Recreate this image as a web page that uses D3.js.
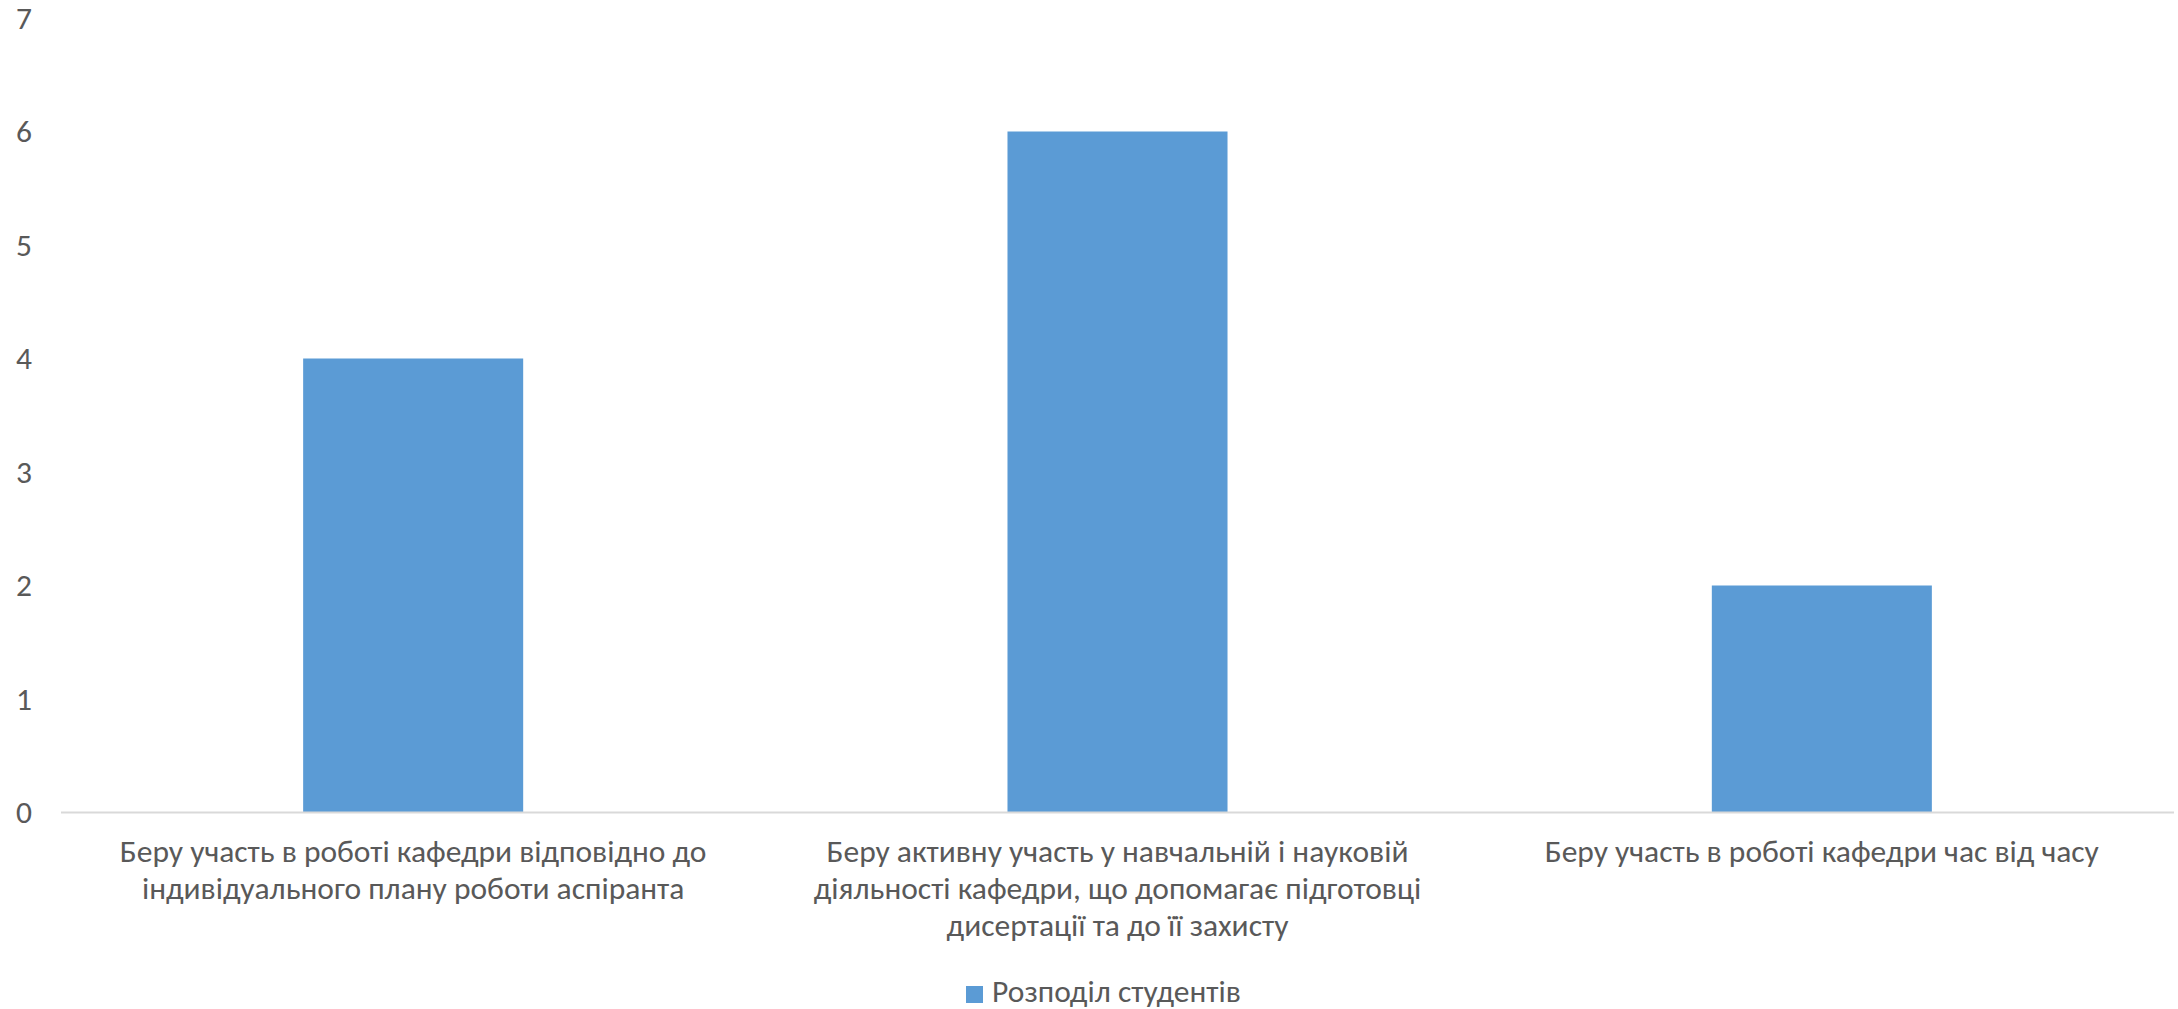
<!DOCTYPE html>
<html>
<head>
<meta charset="utf-8">
<script src="https://cdn.jsdelivr.net/npm/d3@7"></script>
<style>
  html, body { margin: 0; padding: 0; background: #ffffff; }
  svg { display: block; }
  text { font-family: Carlito, Lato, "Open Sans", sans-serif; fill: #595959; }
</style>
</head>
<body>
<svg id="chart" width="2178" height="1009"></svg>
<script>
const categories = [
  "Беру участь в роботі кафедри відповідно до індивідуального плану роботи аспіранта",
  "Беру активну участь у навчальній і науковій діяльності кафедри, що допомагає підготовці дисертації та до її захисту",
  "Беру участь в роботі кафедри час від часу"
];
const categoryLines = [
  ["Беру участь в роботі кафедри відповідно до", "індивідуального плану роботи аспіранта"],
  ["Беру активну участь у навчальній і науковій", "діяльності кафедри, що допомагає підготовці", "дисертації та до її захисту"],
  ["Беру участь в роботі кафедри час від часу"]
];
const values = [4, 6, 2];
const seriesName = "Розподіл студентів";
const yTicks = [0, 1, 2, 3, 4, 5, 6, 7];

const plotLeft = 61, plotRight = 2174, plotTop = 18, plotBottom = 812.5;
const barColor = "#5B9BD5";
const fontSize = 31.5;
const fontFamily = "Carlito, Lato, 'Open Sans', sans-serif";

const svg = d3.select("#chart");

const x = d3.scaleBand()
  .domain(categories)
  .range([plotLeft, plotRight])
  .paddingInner(0.6876)
  .paddingOuter(0.3438);

const y = d3.scaleLinear()
  .domain([0, 7])
  .range([plotBottom, plotTop]);

// Bars
svg.append("g")
  .selectAll("rect")
  .data(values)
  .join("rect")
  .attr("x", (d, i) => x(categories[i]))
  .attr("y", d => y(d))
  .attr("width", x.bandwidth())
  .attr("height", d => y(0) - y(d))
  .attr("fill", barColor);

// Y axis labels
const yAxis = d3.axisLeft(y).tickValues(yTicks).tickSize(0).tickPadding(29).tickFormat(d3.format("d"));
const gy = svg.append("g").attr("transform", `translate(${plotLeft},0)`).call(yAxis);
gy.select(".domain").remove();
gy.selectAll("text")
  .attr("font-size", fontSize)
  .style("font-family", fontFamily)
  .attr("fill", "#595959");

// X axis line
const xAxis = d3.axisBottom(x).tickSize(0).tickFormat("");
const gx = svg.append("g").attr("transform", `translate(0,${plotBottom})`).call(xAxis);
gx.select(".domain").attr("stroke", "#d9d9d9").attr("stroke-width", 2)
  .attr("d", `M${plotLeft},0H${plotRight}`);

// Category labels
const lineGap = 37;
const labels = svg.append("g");
categories.forEach((c, i) => {
  const cx = x(c) + x.bandwidth() / 2;
  const t = labels.append("text")
    .attr("x", cx)
    .attr("y", 862)
    .attr("text-anchor", "middle")
    .attr("font-size", fontSize);
  categoryLines[i].forEach((ln, j) => {
    t.append("tspan")
      .attr("x", cx)
      .attr("dy", j === 0 ? 0 : lineGap)
      .text(ln);
  });
});

// Legend
const legend = svg.append("g");
legend.append("rect")
  .attr("x", 966).attr("y", 986).attr("width", 17).attr("height", 17)
  .attr("fill", barColor);
legend.append("text")
  .attr("x", 992).attr("y", 1002)
  .attr("font-size", fontSize)
  .text(seriesName);
</script>
</body>
</html>
